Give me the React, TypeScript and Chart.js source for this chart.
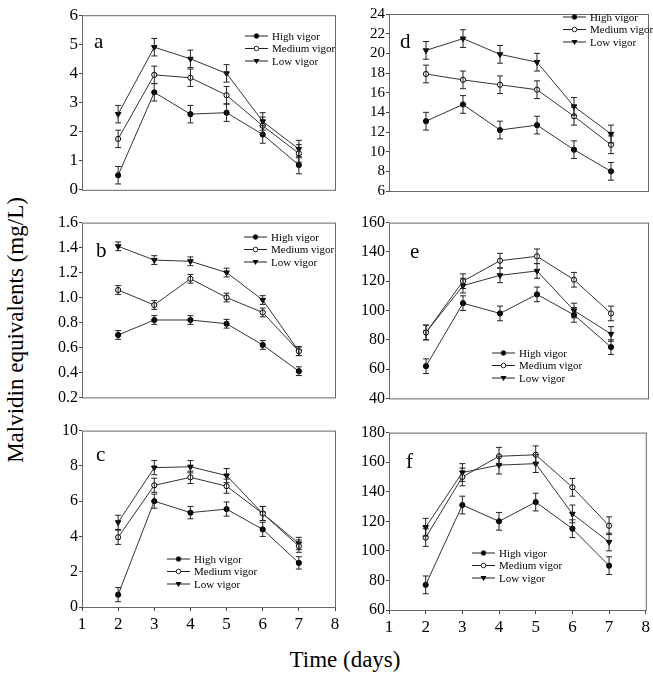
import React, { useEffect, useRef } from 'react';
import { Chart, registerables } from 'chart.js';

Chart.register(...registerables);

const days = [2, 3, 4, 5, 6, 7];
const seriesNames = ['High vigor', 'Medium vigor', 'Low vigor'];

const aHigh = [0.5, 3.35, 2.6, 2.65, 1.9, 0.85];
const aMed = [1.75, 3.95, 3.85, 3.25, 2.2, 1.25];
const aLow = [2.6, 4.9, 4.5, 4.0, 2.35, 1.4];
const aErr = [0.3, 0.3, 0.3, 0.3, 0.3, 0.3];

const bHigh = [0.7, 0.82, 0.82, 0.79, 0.62, 0.41];
const bMed = [1.06, 0.94, 1.15, 1.0, 0.88, 0.57];
const bLow = [1.41, 1.3, 1.29, 1.2, 0.98, 0.57];
const bErr = [0.035, 0.035, 0.035, 0.035, 0.035, 0.035];

const cHigh = [0.7, 6.0, 5.35, 5.55, 4.4, 2.5];
const cMed = [3.95, 6.9, 7.35, 6.85, 5.3, 3.45];
const cLow = [4.8, 7.9, 7.95, 7.45, 5.3, 3.6];
const cErr = [0.4, 0.4, 0.35, 0.4, 0.4, 0.35];

const dHigh = [13.1, 14.8, 12.2, 12.7, 10.2, 8.0];
const dMed = [17.9, 17.3, 16.8, 16.3, 13.6, 10.7];
const dLow = [20.3, 21.5, 19.9, 19.1, 14.6, 11.8];
const dErr = [0.9, 0.9, 0.9, 0.9, 0.9, 0.9];

const eHigh = [62, 105, 98, 111, 97, 75];
const eMed = [85, 120, 134, 137, 121, 98];
const eLow = [85, 117, 124, 127, 100, 84];
const eErr = [5, 5, 5, 5, 5, 5];

const fHigh = [77, 131, 120, 133, 115, 90];
const fMed = [109, 150, 164, 165, 143, 117];
const fLow = [116, 153, 158, 159, 125, 106];
const fErr = [6, 6, 6, 6, 6, 6];

const FONT = '"Liberation Serif", "Times New Roman", serif';

interface PanelProps {
  letter: string;
  high: number[];
  med: number[];
  low: number[];
  err: number[];
  yMin: number;
  yMax: number;
  yStep: number;
  decimals: number;
  tickSize: number;
  left: number;   // page x of canvas
  axisX: number;  // page x of plot left
  plotRight: number;
  plotTop: number;
  plotBottom: number;
  showX: boolean;
  letterPos: [number, number];
  legendPos: [number, number, number]; // line start x, first row y, row gap
}

function Panel(p: PanelProps) {
  const ref = useRef<HTMLCanvasElement | null>(null);
  const canvasTop = p.plotTop - 9;
  const xH = p.showX ? 26 : 0;
  const padBottom = p.showX ? 0 : 9;
  const width = 653 - p.left;
  const padRight = width - (p.plotRight - p.left);
  const height = p.plotBottom - canvasTop + xH + padBottom;

  useEffect(() => {
    if (!ref.current) return;
    const lx = p.legendPos[0] - p.left;
    const ly = p.legendPos[1] - canvasTop;
    const gap = p.legendPos[2];

    const extras = {
      id: 'panelExtras',
      afterDatasetsDraw(chart: any) {
        const ctx = chart.ctx;
        const { left, top, right, bottom } = chart.chartArea;
        ctx.save();
        ctx.strokeStyle = '#666';
        ctx.lineWidth = 1;
        ctx.strokeRect(left + 0.5, top + 0.5, right - left, bottom - top);
        // error bars
        ctx.strokeStyle = '#222';
        const ys = chart.scales.y;
        chart.data.datasets.forEach((ds: any, i: number) => {
          const meta = chart.getDatasetMeta(i);
          meta.data.forEach((pt: any, j: number) => {
            const v = ds.data[j].y;
            const e = p.err[j];
            const y1 = ys.getPixelForValue(v - e);
            const y2 = ys.getPixelForValue(v + e);
            ctx.beginPath();
            ctx.moveTo(pt.x, y1);
            ctx.lineTo(pt.x, y2);
            ctx.moveTo(pt.x - 3, y1);
            ctx.lineTo(pt.x + 3, y1);
            ctx.moveTo(pt.x - 3, y2);
            ctx.lineTo(pt.x + 3, y2);
            ctx.stroke();
          });
        });
        // letter
        ctx.fillStyle = '#000';
        ctx.font = `21px ${FONT}`;
        ctx.textBaseline = 'middle';
        ctx.textAlign = 'left';
        ctx.fillText(p.letter, p.letterPos[0] - p.left, p.letterPos[1] - canvasTop);
        // legend
        ctx.font = `11px ${FONT}`;
        seriesNames.forEach((name, i) => {
          const y = ly + i * gap;
          ctx.strokeStyle = '#222';
          ctx.beginPath();
          ctx.moveTo(lx, y);
          ctx.lineTo(lx + 23, y);
          ctx.stroke();
          const cx = lx + 11.5;
          ctx.beginPath();
          if (i === 2) {
            ctx.moveTo(cx - 3, y - 2);
            ctx.lineTo(cx + 3, y - 2);
            ctx.lineTo(cx, y + 3);
            ctx.closePath();
            ctx.fillStyle = '#000';
            ctx.fill();
          } else {
            ctx.arc(cx, y, 2.3, 0, Math.PI * 2);
            ctx.fillStyle = i === 0 ? '#000' : '#fff';
            ctx.fill();
            ctx.stroke();
          }
          ctx.fillStyle = '#000';
          ctx.fillText(name, lx + 27, y + 1);
        });
        ctx.restore();
      },
    };

    const styles = [
      { pointStyle: 'circle', rotation: 0, bg: '#000' },
      { pointStyle: 'circle', rotation: 0, bg: '#fff' },
      { pointStyle: 'triangle', rotation: 180, bg: '#000' },
    ];
    const chart = new Chart(ref.current, {
      type: 'line',
      data: {
        datasets: [p.high, p.med, p.low].map((vals, i) => ({
          label: seriesNames[i],
          data: vals.map((v, j) => ({ x: days[j], y: v })),
          borderColor: '#333',
          borderWidth: 1,
          pointStyle: styles[i].pointStyle as any,
          rotation: styles[i].rotation,
          pointRadius: i === 2 ? 3.2 : 2.6,
          pointBackgroundColor: styles[i].bg,
          pointBorderColor: '#000',
          pointBorderWidth: 1,
        })),
      },
      options: {
        animation: false,
        responsive: false,
        layout: { padding: { top: 9, right: padRight, bottom: padBottom, left: 0 } },
        scales: {
          x: {
            type: 'linear',
            min: 1,
            max: 8,
            ticks: { display: p.showX, stepSize: 1, color: '#000', font: { family: FONT, size: 17 }, padding: 3 },
            grid: { display: true, drawOnChartArea: false, drawTicks: p.showX, tickLength: 4, color: '#444' },
            border: { display: false },
            afterFit: (s: any) => { s.height = xH; },
          },
          y: {
            min: p.yMin,
            max: p.yMax,
            ticks: {
              stepSize: p.yStep,
              autoSkip: false,
              color: '#000',
              font: { family: FONT, size: p.tickSize },
              padding: 1,
              callback: (v: any) => Number(v).toFixed(p.decimals),
            },
            grid: { drawOnChartArea: false, tickLength: 3, color: '#444' },
            border: { display: false },
            afterFit: (s: any) => { s.width = p.axisX - p.left; },
          },
        },
        plugins: {
          legend: { display: false },
          tooltip: { enabled: false },
        },
      },
      plugins: [extras],
    });
    return () => chart.destroy();
  }, []);

  return (
    <canvas
      ref={ref}
      width={width}
      height={height}
      style={{ position: 'absolute', left: p.left, top: canvasTop, width, height }}
    />
  );
}

export default function App() {
  const L = { left: 36, axisX: 82, plotRight: 335 };
  const R = { left: 344, axisX: 389, plotRight: 649 };
  return (
    <div style={{ position: 'fixed', left: 0, top: 0, width: 653, height: 675, background: '#fff', fontFamily: FONT }}>
      <Panel {...R} letter="d" high={dHigh} med={dMed} low={dLow} err={dErr} yMin={6} yMax={24} yStep={2} decimals={0} tickSize={15}
        plotTop={13} plotBottom={192} showX={false} letterPos={[400, 42]} legendPos={[563, 17, 12.5]} />
      <Panel {...R} letter="e" high={eHigh} med={eMed} low={eLow} err={eErr} yMin={40} yMax={160} yStep={20} decimals={0} tickSize={16}
        plotTop={221} plotBottom={400} showX={false} letterPos={[410, 252]} legendPos={[492, 353, 12.5]} />
      <Panel {...R} letter="f" high={fHigh} med={fMed} low={fLow} err={fErr} yMin={60} yMax={180} yStep={20} decimals={0} tickSize={16}
        plotTop={431} plotBottom={610} showX={true} letterPos={[406, 462]} legendPos={[472, 553, 12.5]} />
      <Panel {...L} letter="a" high={aHigh} med={aMed} low={aLow} err={aErr} yMin={0} yMax={6} yStep={1} decimals={0} tickSize={17}
        plotTop={13} plotBottom={192} showX={false} letterPos={[94, 42]} legendPos={[245, 36, 12.5]} />
      <Panel {...L} letter="b" high={bHigh} med={bMed} low={bLow} err={bErr} yMin={0.2} yMax={1.6} yStep={0.2} decimals={1} tickSize={16}
        plotTop={221} plotBottom={399} showX={false} letterPos={[96, 251]} legendPos={[244, 237, 12.5]} />
      <Panel {...L} letter="c" high={cHigh} med={cMed} low={cLow} err={cErr} yMin={0} yMax={10} yStep={2} decimals={0} tickSize={16}
        plotTop={429} plotBottom={607} showX={true} letterPos={[96, 455]} legendPos={[167, 559, 12.5]} />
      <div style={{ position: 'absolute', left: 16, top: 330, transform: 'translate(-50%, -50%) rotate(-90deg)', whiteSpace: 'nowrap', fontSize: 23 }}>
        Malvidin equivalents (mg/L)
      </div>
      <div style={{ position: 'absolute', left: 345, top: 660, transform: 'translate(-50%, -50%)', whiteSpace: 'nowrap', fontSize: 23 }}>
        Time (days)
      </div>
    </div>
  );
}
